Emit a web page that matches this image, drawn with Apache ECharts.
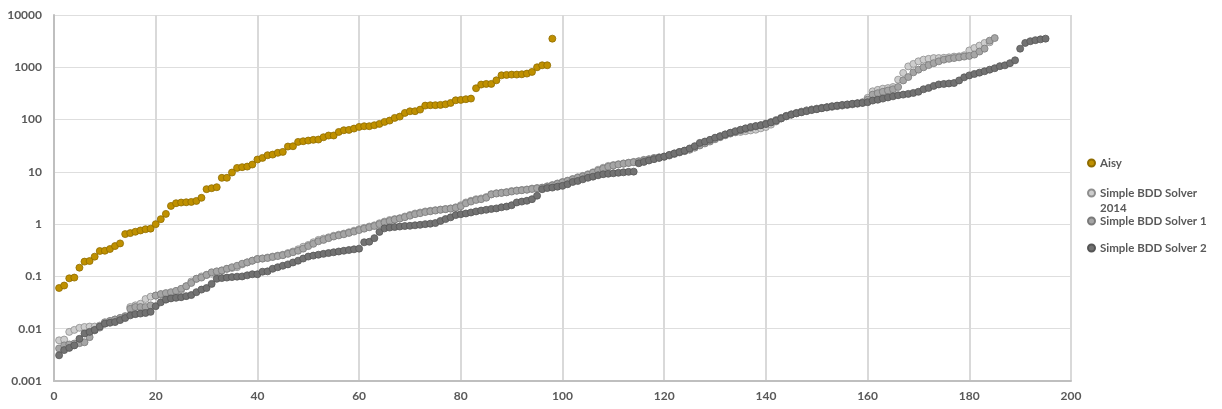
<!DOCTYPE html>
<html>
<head>
<meta charset="utf-8">
<script src="https://cdn.jsdelivr.net/npm/echarts@6/dist/echarts.min.js"></script>
<style>html,body{margin:0;padding:0;background:#fff;}#c{width:1222px;height:409px;}</style>
</head>
<body>
<div id="c"></div>
<script>
const seriesNames = ['Aisy', 'Simple BDD Solver 2014', 'Simple BDD Solver 1', 'Simple BDD Solver 2'];
const xTicks = [0, 20, 40, 60, 80, 100, 120, 140, 160, 180, 200];
const yTickLabels = ['0.001', '0.01', '0.1', '1', '10', '100', '1000', '10000'];

const aisy = [
  0.06, 0.067, 0.092, 0.095, 0.147, 0.192, 0.197, 0.239, 0.306, 0.31,
  0.334, 0.381, 0.428, 0.645, 0.674, 0.715, 0.757, 0.8, 0.82, 1.0,
  1.245, 1.57, 2.23, 2.51, 2.59, 2.62, 2.66, 2.78, 3.19, 4.67,
  4.87, 5.09, 7.68, 7.7, 9.71, 11.9, 12.3, 12.6, 13.8, 17.2,
  18.5, 20.8, 21.4, 23.1, 24.1, 30.5, 30.9, 37.4, 38.5, 39.7,
  40.9, 41.5, 46, 49.5, 49.6, 58, 62.5, 63.5, 67.3, 72.4,
  74.6, 74.7, 78, 82.6, 90.2, 95.7, 107.6, 114, 134, 144,
  144.5, 155, 185, 188, 188.5, 191, 196, 208, 234, 238,
  245, 252, 397, 467, 480, 481, 564, 703, 714, 724,
  725, 735, 757, 815, 1000, 1092, 1093, 3530
];

const bdd2014 = [
  0.006, 0.0062, 0.0087, 0.0095, 0.0104, 0.0108, 0.011, 0.011, 0.0115, 0.0126,
  0.014, 0.015, 0.016, 0.0175, 0.026, 0.028, 0.03, 0.037, 0.041, 0.043,
  0.045, 0.046, 0.048, 0.05, 0.055, 0.065, 0.08, 0.09, 0.1, 0.107,
  0.112, 0.12, 0.13, 0.14, 0.145, 0.15, 0.17, 0.185, 0.2, 0.215,
  0.22, 0.23, 0.24, 0.25, 0.26, 0.28, 0.3, 0.33, 0.37, 0.4,
  0.45, 0.5, 0.53, 0.56, 0.6, 0.63, 0.66, 0.7, 0.75, 0.8,
  0.85, 0.9, 0.95, 1.04, 1.12, 1.2, 1.25, 1.3, 1.4, 1.5,
  1.6, 1.67, 1.75, 1.8, 1.85, 1.9, 1.95, 2.0, 2.1, 2.3,
  2.6, 2.8, 3.0, 3.1, 3.3, 3.74, 3.9, 4.0, 4.1, 4.3,
  4.4, 4.5, 4.6, 4.8, 4.9, 5.0, 5.3, 5.6, 6.0, 6.4,
  6.8, 7.3, 7.9, 8.4, 9.0, 9.8, 11, 12, 13, 13.5,
  14, 14.5, 15, 15.5, 16, 17, 17.5, 18.5, 19, 19.6,
  21, 22.5, 24, 25, 27, 30, 33, 36, 40, 44,
  48, 52, 55, 57, 58, 60, 62, 64, 68, 72,
  80, 92, 105, 115, 125, 132, 140, 148, 155, 160,
  165, 170, 175, 180, 185, 190, 195, 200, 210, 260,
  347, 370, 390, 400, 420, 580, 780, 1040, 1160, 1300,
  1400, 1450, 1500, 1500, 1520, 1550, 1600, 1620, 1700, 2100,
  2340, 2600, 2920, 3000
];

const bdd1 = [
  0.0042, 0.0048, 0.005, 0.0052, 0.0053, 0.0055, 0.0069, 0.0093, 0.0105, 0.0133,
  0.014, 0.015, 0.016, 0.017, 0.024, 0.026, 0.026, 0.026, 0.028, 0.043,
  0.046, 0.048, 0.05, 0.053, 0.058, 0.065, 0.075, 0.09, 0.095, 0.107,
  0.12, 0.125, 0.13, 0.14, 0.15, 0.16, 0.175, 0.186, 0.2, 0.215,
  0.22, 0.225, 0.235, 0.245, 0.255, 0.27, 0.29, 0.31, 0.34, 0.38,
  0.42, 0.47, 0.5, 0.54, 0.58, 0.61, 0.64, 0.68, 0.72, 0.77,
  0.82, 0.87, 0.92, 1.0, 1.08, 1.15, 1.22, 1.28, 1.36, 1.45,
  1.55, 1.62, 1.7, 1.76, 1.82, 1.88, 1.93, 1.98, 2.05, 2.2,
  2.5, 2.7, 2.9, 3.0, 3.2, 3.7, 3.85, 3.95, 4.05, 4.2,
  4.35, 4.45, 4.55, 4.7, 4.85, 4.95, 5.2, 5.5, 5.9, 6.3,
  6.7, 7.2, 7.7, 8.2, 8.8, 9.6, 10.5, 11.5, 12.5, 13.2,
  13.8, 14.3, 14.8, 15.3, 15.8, 16.6, 17.3, 18.2, 18.8, 19.4,
  20.5, 22, 23.5, 25, 26.5, 29, 32, 35, 38, 42,
  46, 50, 54, 58, 62, 66, 70, 74, 78, 84,
  90, 98, 108, 118, 126, 134, 142, 150, 156, 162,
  168, 172, 177, 182, 187, 192, 198, 205, 215, 240,
  300, 320, 340, 360, 380, 420, 560, 650, 800, 900,
  1000, 1100, 1200, 1300, 1400, 1450, 1500, 1550, 1600, 1650,
  1750, 2000, 2270, 3230, 3620
];

const bdd2 = [
  0.0031, 0.0039, 0.0043, 0.0048, 0.0064, 0.0081, 0.0087, 0.0095, 0.011, 0.0125,
  0.013, 0.0134, 0.0146, 0.016, 0.018, 0.019, 0.0195, 0.02, 0.021, 0.027,
  0.032, 0.036, 0.038, 0.039, 0.04, 0.042, 0.044, 0.05, 0.056, 0.06,
  0.072, 0.09, 0.093, 0.095, 0.097, 0.099, 0.1, 0.105, 0.11, 0.11,
  0.123, 0.125, 0.14, 0.15, 0.16, 0.17, 0.185, 0.2, 0.22, 0.24,
  0.25, 0.26, 0.27, 0.28, 0.29, 0.3, 0.31, 0.32, 0.33, 0.34,
  0.45, 0.46, 0.54, 0.71, 0.83, 0.86, 0.88, 0.9, 0.92, 0.93,
  0.95, 0.97, 1.0, 1.02, 1.05, 1.15, 1.25, 1.35, 1.49, 1.55,
  1.6, 1.67, 1.75, 1.82, 1.88, 1.95, 2.0, 2.1, 2.17, 2.3,
  2.6, 2.7, 2.8, 3.0, 3.5, 4.66, 4.9, 5.0, 5.2, 5.4,
  5.8, 6.4, 6.7, 7.2, 7.7, 8.1, 8.6, 9.0, 9.2, 9.4,
  9.6, 9.8, 10.0, 10.1, 14.6, 15.5, 16.5, 17.5, 18.5, 19.6,
  21, 22.5, 24, 25.5, 28, 31, 35.8, 38, 41, 45,
  48, 52, 56, 60, 64, 68, 72, 75, 78, 82,
  88, 95, 105, 116, 124, 132, 138, 145, 152, 158,
  165, 172, 180, 185, 190, 195, 200, 205, 208, 215,
  231, 240, 252, 265, 278, 292, 300, 310, 323, 340,
  380, 403, 440, 470, 480, 490, 500, 560, 643, 700,
  745, 790, 840, 900, 960, 1050, 1090, 1200, 1360, 2270,
  2920, 3150, 3300, 3420, 3530
];

const toPoints = arr => arr.map((v, i) => [i + 1, v]);
const FONT = 'Lato';
const LABEL = '#595959';

const styles = [
  { fill: '#BF9000', border: '#8F6C00' },
  { fill: '#CDCDCD', border: '#8E8E8E' },
  { fill: '#A5A5A5', border: '#7A7A7A' },
  { fill: '#727272', border: '#555555' }
];
const datasets = [aisy, bdd2014, bdd1, bdd2];

const chart = echarts.init(document.getElementById('c'), null, { renderer: 'canvas' });

const legendBase = {
  orient: 'vertical', left: 1087, icon: 'circle', itemWidth: 7, itemHeight: 7,
  itemGap: 0, padding: 0, selectedMode: false,
  textStyle: { fontFamily: FONT, fontWeight: 'bold', fontSize: 11.5, color: LABEL, lineHeight: 15 }
};

chart.setOption({
  animation: false,
  backgroundColor: '#ffffff',
  grid: { left: 54, right: 151, top: 15, bottom: 28, containLabel: false },
  xAxis: {
    type: 'value', min: 0, max: 200, interval: 20,
    axisLine: { show: true, lineStyle: { color: '#BFBFBF', width: 2 } },
    axisTick: { show: false },
    axisLabel: { margin: 9, fontFamily: FONT, fontWeight: 'bold', fontSize: 12, color: LABEL,
      formatter: v => xTicks.includes(v) ? String(v) : '' },
    splitLine: { show: true, lineStyle: { color: '#D9D9D9', width: 2 } }
  },
  yAxis: {
    type: 'log', logBase: 10, min: 0.001, max: 10000,
    axisLine: { show: true, lineStyle: { color: '#BFBFBF', width: 2 } },
    axisTick: { show: false },
    axisLabel: { margin: 12, fontFamily: FONT, fontWeight: 'bold', fontSize: 12, color: LABEL,
      formatter: v => yTickLabels[Math.round(Math.log10(v)) + 3] },
    splitLine: { show: true, lineStyle: { color: '#DEDEDE', width: 1 } }
  },
  legend: [
    Object.assign({}, legendBase, { data: [seriesNames[0]], top: 155.5 }),
    Object.assign({}, legendBase, { data: [seriesNames[1]], top: 170.5,
      formatter: () => '\nSimple BDD Solver\n2014' }),
    Object.assign({}, legendBase, { data: [seriesNames[2]], top: 213.5 }),
    Object.assign({}, legendBase, { data: [seriesNames[3]], top: 240.5 })
  ],
  series: datasets.map((d, i) => ({
    name: seriesNames[i],
    type: 'scatter',
    symbol: 'circle',
    symbolSize: 7,
    data: toPoints(d),
    itemStyle: { color: styles[i].fill, borderColor: styles[i].border, borderWidth: 0.8, opacity: 1 }
  }))
});
</script>
</body>
</html>
